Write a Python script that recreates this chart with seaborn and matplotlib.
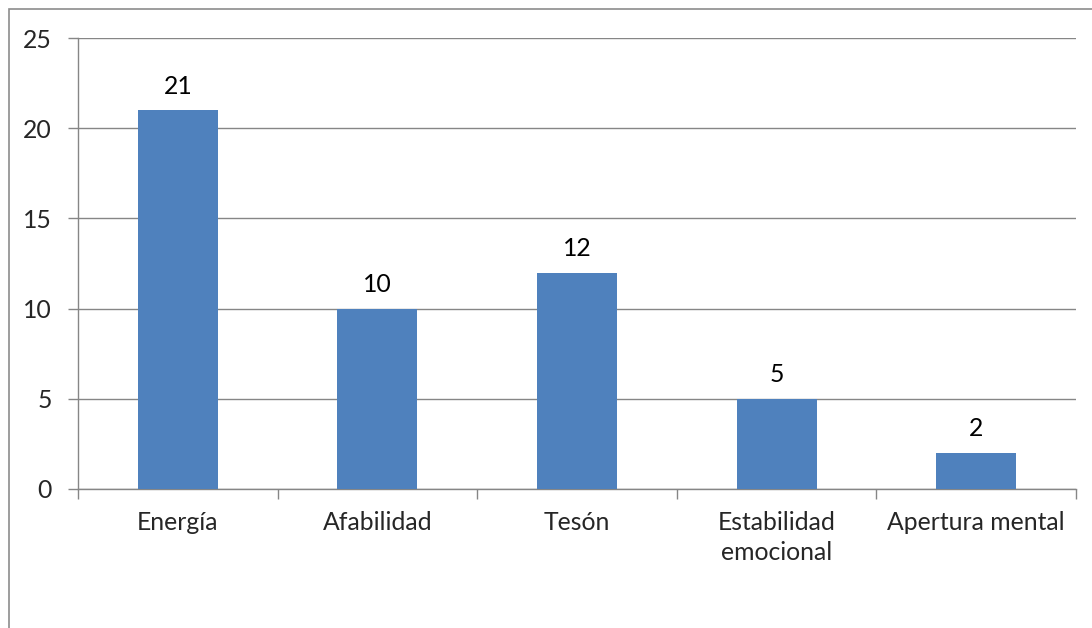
import matplotlib
matplotlib.use("Agg")
import matplotlib.pyplot as plt
import pandas as pd
import seaborn as sns
from matplotlib.patches import Rectangle

# Chart data
categories = ["Energía", "Afabilidad", "Tesón", "Estabilidad\nemocional", "Apertura mental"]
values = [21, 10, 12, 5, 2]
y_ticks = [0, 5, 10, 15, 20, 25]

BAR_COLOR = "#4F81BD"
GRID_COLOR = "#868686"
FS = 17.8

sns.set_theme(style="white")
plt.rcParams["font.family"] = ["Lato", "DejaVu Sans"]

W, H = 1092, 628
fig = plt.figure(figsize=(W / 100, H / 100), dpi=100)
ax = fig.add_axes([78 / W, 1 - 489 / H, (1076 - 78) / W, (489 - 38) / H])

df = pd.DataFrame({"cat": categories, "val": values})
sns.barplot(data=df, x="cat", y="val", color=BAR_COLOR, width=0.4,
            saturation=1, linewidth=0, ax=ax, zorder=3)

# Value labels above bars
ax.bar_label(ax.containers[0], labels=[str(v) for v in values],
             padding=9, fontsize=FS, color="black")

ax.set_ylim(0, 25)
ax.set_xlim(-0.5, len(categories) - 0.5)
ax.set_yticks(y_ticks)
ax.set_yticklabels([str(t) for t in y_ticks], fontsize=FS)
ax.tick_params(axis="y", length=7, width=1, color=GRID_COLOR, pad=12, left=True)

# Category boundary ticks on x axis
ax.set_xticks([i - 0.5 for i in range(len(categories) + 1)], minor=True)
ax.tick_params(axis="x", which="minor", length=7, width=1, color=GRID_COLOR, bottom=True)
ax.tick_params(axis="x", which="major", length=0, pad=16, labelsize=FS)
for lbl in ax.get_xticklabels():
    lbl.set_linespacing(1.35)
ax.set_xlabel("")
ax.set_ylabel("")

ax.yaxis.grid(True, color=GRID_COLOR, linewidth=1)
ax.set_axisbelow(True)
for side in ["top", "right"]:
    ax.spines[side].set_visible(False)
for side in ["left", "bottom"]:
    ax.spines[side].set_color(GRID_COLOR)
    ax.spines[side].set_linewidth(1)

# Outer chart border (partly cut off at right and bottom)
fig.patches.append(Rectangle((9 / W, -0.5), 2, 1.5 - 9 / H, transform=fig.transFigure,
                             fill=False, edgecolor="#8C8C8C", linewidth=1.2))

fig.savefig("out.png", dpi=100)
